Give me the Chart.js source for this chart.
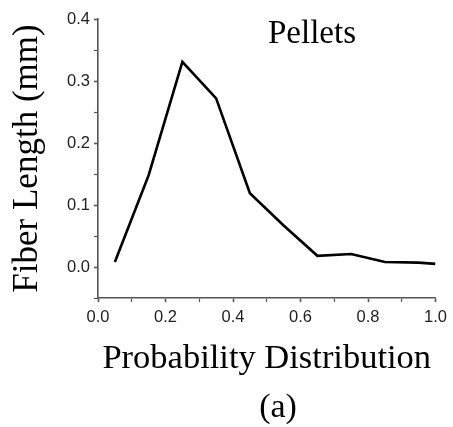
<!DOCTYPE html>
<html>
<head>
<meta charset="utf-8">
<script src="https://cdn.jsdelivr.net/npm/chart.js@4/dist/chart.umd.min.js"></script>
<style>
  html, body { margin: 0; padding: 0; background: #ffffff; }
  #wrap { width: 453px; height: 427px; position: relative; }
</style>
</head>
<body>
<div id="wrap"><canvas id="c" width="453" height="427"></canvas></div>
<script>
// ---- data ----
const probability = [0.05, 0.15, 0.25, 0.35, 0.45, 0.55, 0.65, 0.75, 0.85, 0.95, 1.0];
const fiberLength = [0.008, 0.148, 0.331, 0.272, 0.119, 0.067, 0.018, 0.021, 0.008, 0.007, 0.005];
const xTickLabels = ['0.0', '0.2', '0.4', '0.6', '0.8', '1.0'];
const yTickLabels = ['0.0', '0.1', '0.2', '0.3', '0.4'];
const panelTitle = 'Pellets';
const panelTag = '(a)';
const xTitle = 'Probability Distribution';
const yTitle = 'Fiber Length (mm)';

const points = probability.map((p, i) => ({ x: p, y: fiberLength[i] }));
const serif = "'Liberation Serif', 'Times New Roman', serif";
const sans = "'Liberation Sans', Arial, sans-serif";

function isMajor(v, step) {
  const r = Math.round(v / step);
  return Math.abs(v / step - r) < 1e-6 ? r : null;
}

const textPlugin = {
  id: 'panelText',
  afterDraw(chart) {
    const ctx = chart.ctx;
    ctx.save();
    ctx.fillStyle = '#000';
    ctx.textBaseline = 'alphabetic';
    ctx.textAlign = 'left';
    ctx.font = '33px ' + serif;
    ctx.fillText(panelTitle, 268, 43);
    ctx.textAlign = 'center';
    ctx.font = '34px ' + serif;
    ctx.fillText(panelTag, 278, 417);
    ctx.restore();
  }
};

new Chart(document.getElementById('c'), {
  type: 'line',
  data: {
    datasets: [{
      data: points,
      borderColor: '#000000',
      borderWidth: 2.6,
      pointRadius: 0,
      tension: 0,
      fill: false
    }]
  },
  options: {
    responsive: false,
    animation: false,
    events: [],
    layout: { padding: { top: 19, right: 15, bottom: 0, left: 0 } },
    plugins: {
      legend: { display: false },
      tooltip: { enabled: false },
      title: { display: false }
    },
    scales: {
      x: {
        type: 'linear',
        min: 0, max: 1,
        afterFit(scale) { scale.height = 129; },
        border: { display: true, color: '#555', width: 1.6 },
        grid: {
          drawOnChartArea: false, drawTicks: true, tickLength: 4,
          tickColor: '#555',
          tickWidth: (c) => (isMajor(c.tick.value, 0.2) !== null ? 1.6 : 1.2)
        },
        ticks: {
          stepSize: 0.1,
          padding: 6,
          color: '#222',
          font: { family: sans, size: 16.5 },
          maxRotation: 0,
          autoSkip: false,
          callback(v) {
            const r = isMajor(v, 0.2);
            return r !== null ? xTickLabels[r] : '';
          }
        },
        title: {
          display: true,
          text: xTitle,
          color: '#000',
          font: { family: serif, size: 34.5 },
          padding: { top: 0, bottom: 47 }
        }
      },
      y: {
        type: 'linear',
        min: -0.05, max: 0.4,
        afterFit(scale) { scale.width = 98; },
        border: { display: true, color: '#555', width: 1.6 },
        grid: {
          drawOnChartArea: false, drawTicks: true, tickLength: 4,
          tickColor: '#555',
          tickWidth: (c) => (isMajor(c.tick.value, 0.1) !== null ? 1.6 : 1.2)
        },
        ticks: {
          stepSize: 0.05,
          padding: 4,
          color: '#222',
          font: { family: sans, size: 16.5 },
          autoSkip: false,
          callback(v) {
            const r = isMajor(v, 0.1);
            return (r !== null && r >= 0) ? yTickLabels[r] : '';
          }
        },
        title: {
          display: true,
          text: yTitle,
          color: '#000',
          font: { family: serif, size: 35 },
          padding: { top: 7, bottom: 0 }
        }
      }
    }
  },
  plugins: [textPlugin]
});
</script>
</body>
</html>
